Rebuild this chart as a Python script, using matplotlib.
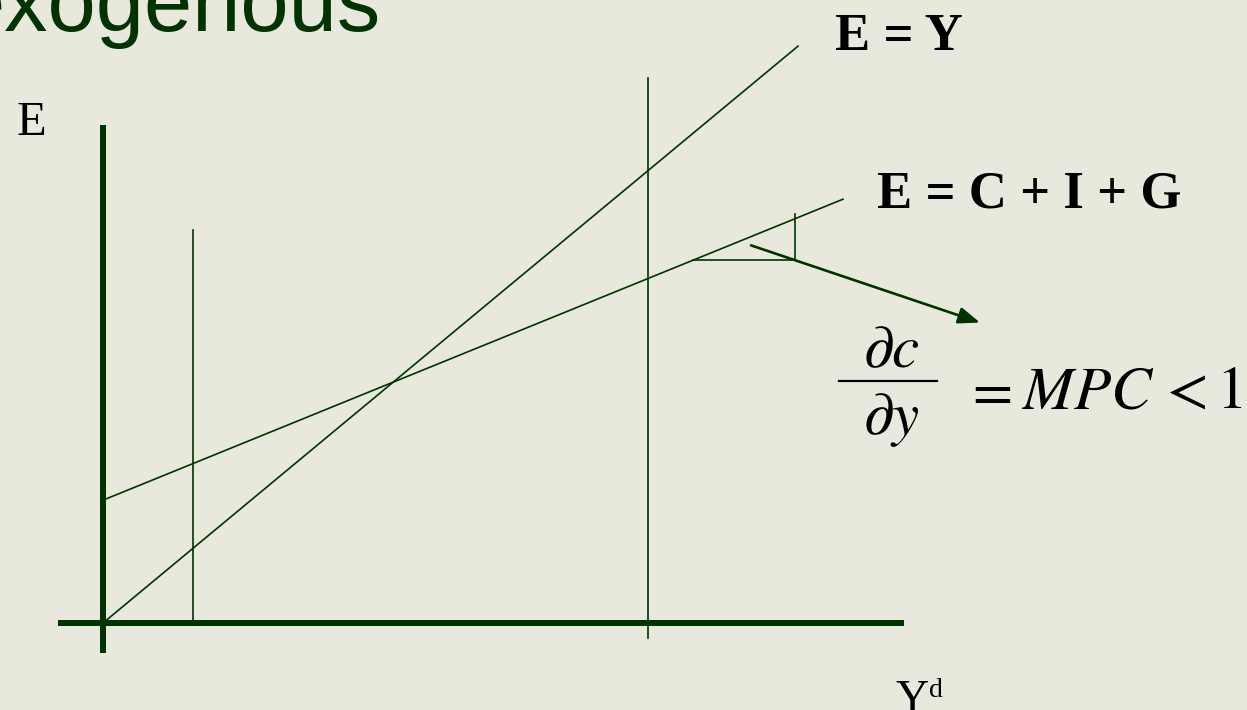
import numpy as np
import matplotlib
matplotlib.use("Agg")
import matplotlib.pyplot as plt

# ==============================
# data (income units along x, spending units along y)
# ==============================
y_max_45 = 6.95          # end of the E = Y line
cig_intercept = 1.48     # autonomous spending C0 + I + G
mpc = 0.49               # slope of E = C + I + G
cig_y_max = 7.40         # end of the E = C + I + G line
y_low = 0.90             # left vertical guide
y_high = 5.45            # right vertical guide
low_top = 4.73
high_range = [-0.18, 6.57]
tri_x = [5.90, 6.92]     # slope triangle
tri_top = 4.93
arrow_from = [6.48, 4.55]
arrow_to = [8.77, 3.62]

green = "#003300"
bg = "#E8E8DC"

# pixel -> data helpers for text placement
def px(x, y):
    return (x - 103) / 100.0, (623 - y) / 83.0

fig = plt.figure(figsize=(12.47, 7.10), dpi=100, facecolor=bg)
ax = fig.add_axes([0, 0, 1, 1])
ax.set_facecolor(bg)
x0, y1 = px(0, 0)
x1, y0 = px(1247, 710)
ax.set_xlim(x0, x1)
ax.set_ylim(y0, y1)
ax.axis("off")

# axes of the diagram
ax.plot([0, 0], [-0.36, 6.0], color=green, lw=4.3, solid_capstyle="butt")
ax.plot([-0.45, 8.01], [0, 0], color=green, lw=4.3, solid_capstyle="butt")

# E = Y
xs = np.array([0, y_max_45])
ax.plot(xs, xs, color=green, lw=1.2)

# E = C + I + G
xs = np.array([0, cig_y_max])
ax.plot(xs, cig_intercept + mpc * xs, color=green, lw=1.2)

# vertical guides
ax.plot([y_low, y_low], [0, low_top], color=green, lw=1.2)
ax.plot([y_high, y_high], high_range, color=green, lw=1.2)

# slope triangle
tri_y = cig_intercept + mpc * tri_x[0]
ax.plot(tri_x, [tri_y, tri_y], color=green, lw=1.2)
ax.plot([tri_x[1], tri_x[1]], [tri_y, tri_top], color=green, lw=1.2)

ax.annotate("", xy=arrow_to, xytext=arrow_from,
            arrowprops=dict(arrowstyle="-|>,head_length=1.3,head_width=0.5",
                            color=green, lw=1.9, shrinkA=0, shrinkB=0))

# texts
serif = "Liberation Serif"
plt.rcParams["mathtext.fontset"] = "stix"

ax.text(*px(-44, 31), "exogenous", family="Liberation Sans", fontsize=62.5,
        color=green, ha="left", va="baseline")
ax.text(*px(17, 135), "E", family=serif, fontsize=35, color="black",
        ha="left", va="baseline")
ax.text(*px(835, 50), "E = Y", family=serif, fontsize=38, weight="bold",
        color="black", ha="left", va="baseline")
ax.text(*px(877, 208), "E = C + I + G", family=serif, fontsize=38,
        weight="bold", color="black", ha="left", va="baseline")

# dc/dy = MPC < 1
ax.text(*px(891, 367), r"$\partial c$", fontsize=44, color="black",
        ha="center", va="baseline")
ax.plot(*zip(px(839, 381), px(937, 381)), color="black", lw=1.6)
ax.text(*px(891, 434), r"$\partial y$", fontsize=44, color="black",
        ha="center", va="baseline")
ax.text(*px(964, 408), r"$=$", fontsize=42, color="black",
        ha="left", va="baseline")
ax.text(*px(1021, 408), r"$MPC$", fontsize=44, color="black",
        ha="left", va="baseline")
ax.text(*px(1158, 408), r"$<$", fontsize=44, color="black",
        ha="left", va="baseline")
ax.text(*px(1242, 408), r"$1$", fontsize=44, color="black",
        ha="right", va="baseline")

ax.text(*px(895, 712), "Y", family=serif, fontsize=33, color="black",
        ha="left", va="baseline")
ax.text(*px(929, 697), "d", family=serif, fontsize=20, color="black",
        ha="left", va="baseline")

fig.savefig("out.png", dpi=100, facecolor=bg)
